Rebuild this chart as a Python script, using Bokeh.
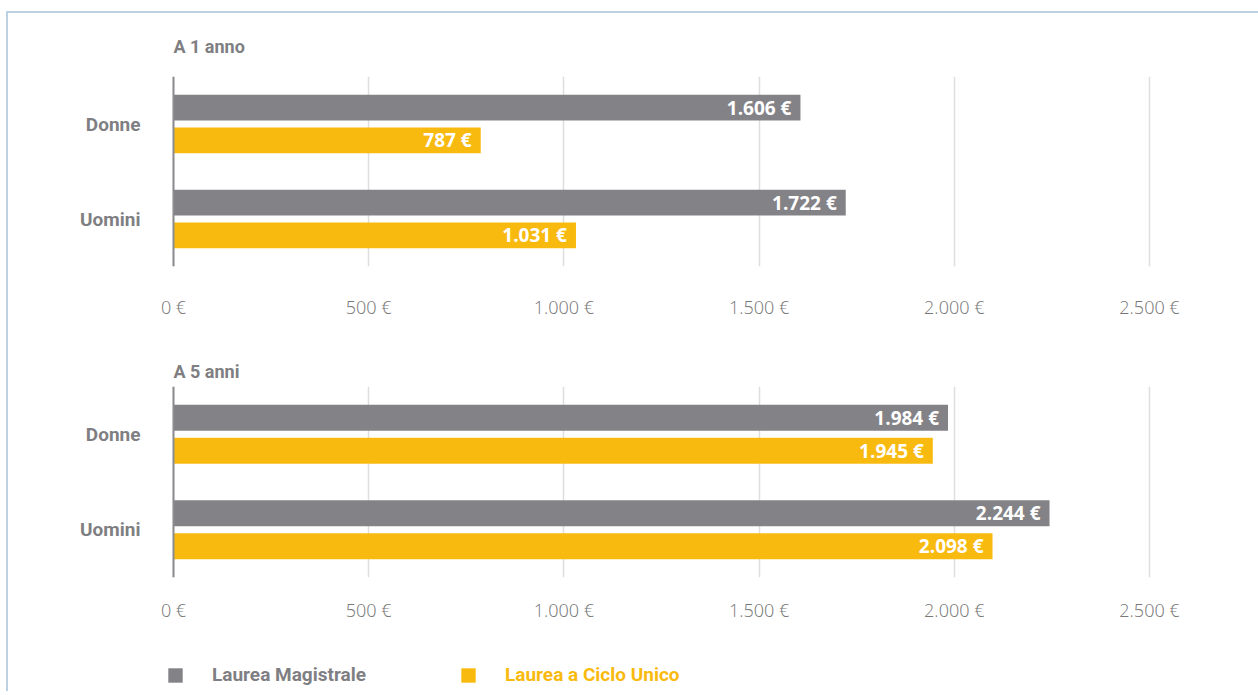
from bokeh.plotting import figure
from bokeh.models import (Range1d, FactorRange, FixedTicker, ColumnDataSource,
                          Legend, LegendItem, Span)
from bokeh.transform import dodge
from bokeh.layouts import column
from bokeh.core.properties import value
from bokeh.embed import file_html
from bokeh.resources import INLINE

# ---------------- data ----------------
CATEGORIES = ["Donne", "Uomini"]
MAGISTRALE_1 = [1606, 1722]
CICLO_UNICO_1 = [787, 1031]
MAGISTRALE_5 = [1984, 2244]
CICLO_UNICO_5 = [1945, 2098]
PANEL_TITLES = ["A 1 anno", "A 5 anni"]
SERIES_NAMES = ["Laurea Magistrale", "Laurea a Ciclo Unico"]
TICK_VALUES = [0, 500, 1000, 1500, 2000, 2500]
TICK_LABELS = ["0 €", "500 €", "1.000 €", "1.500 €", "2.000 €", "2.500 €"]

# ---------------- style ----------------
GRAY = "#838286"
YELLOW = "#F9BA10"
TEXT_GRAY = "#7f7f83"
TICK_GRAY = "#777777"
GRID = "#dedede"
AXIS = "#8c8c90"
FRAME = "#bcd2e2"
BOLD_FONT = "Roboto"
LIGHT_FONT = "Open Sans Light"
VALUE_FONT = "Open Sans"
X_START, X_END = -38.4, 2600


def euro(v):
    return f"{v:,}".replace(",", ".") + " €"


def panel(title, mag, cu, height, b_top, b_bottom, title_standoff, label_standoff):
    p = figure(width=1250, height=height, title=title,
               x_range=Range1d(X_START, X_END),
               y_range=FactorRange(factors=CATEGORIES[::-1], range_padding=0),
               output_backend="svg", toolbar_location=None,
               min_border_left=150, min_border_right=70,
               min_border_top=b_top, min_border_bottom=b_bottom)
    p.outline_line_color = None
    p.title.text_font = BOLD_FONT
    p.title.text_font_style = "bold"
    p.title.text_font_size = "18px"
    p.title.text_color = TEXT_GRAY
    p.title.align = "left"
    p.title.offset = 15
    p.title.standoff = title_standoff

    src = ColumnDataSource(dict(cat=CATEGORIES, mag=mag, cu=cu,
                                mag_lbl=[euro(v) for v in mag],
                                cu_lbl=[euro(v) for v in cu]))
    y_mag = dodge("cat", 0.173, range=p.y_range)
    y_cu = dodge("cat", -0.173, range=p.y_range)
    p.hbar(y=y_mag, left=0, right="mag", height=0.272, source=src,
           fill_color=GRAY, line_color=None)
    p.hbar(y=y_cu, left=0, right="cu", height=0.272, source=src,
           fill_color=YELLOW, line_color=None)
    for col, yy in (("mag", y_mag), ("cu", y_cu)):
        p.text(x=col, y=yy, text=col + "_lbl", source=src,
               text_align="right", text_baseline="middle", x_offset=-9,
               text_color="white", text_font=value(VALUE_FONT),
               text_font_style="bold", text_font_size="19px")

    ticker = FixedTicker(ticks=TICK_VALUES)
    p.xaxis.ticker = ticker
    p.xaxis.major_label_overrides = dict(zip(TICK_VALUES, TICK_LABELS))
    p.xaxis.axis_line_color = None
    p.xaxis.major_tick_line_color = None
    p.xaxis.minor_tick_line_color = None
    p.xaxis.major_tick_out = 0
    p.xaxis.major_label_standoff = label_standoff
    p.xaxis.major_label_text_font = LIGHT_FONT
    p.xaxis.major_label_text_font_size = "18px"
    p.xaxis.major_label_text_color = TICK_GRAY

    p.xgrid.ticker = ticker
    p.xgrid.grid_line_color = GRID
    p.xgrid.grid_line_width = 1.5
    p.ygrid.grid_line_color = None

    # zero line (vertical axis line)
    p.add_layout(Span(location=0, dimension="height", line_color=AXIS, line_width=2))

    p.yaxis.axis_line_color = None
    p.yaxis.major_tick_line_color = None
    p.yaxis.minor_tick_line_color = None
    p.yaxis.major_tick_out = 0
    p.yaxis.major_label_standoff = 18
    p.yaxis.major_label_text_font = BOLD_FONT
    p.yaxis.major_label_text_font_style = "bold"
    p.yaxis.major_label_text_font_size = "19px"
    p.yaxis.major_label_text_color = TEXT_GRAY
    return p


p1 = panel(PANEL_TITLES[0], MAGISTRALE_1, CICLO_UNICO_1, 330, 62, 77, 40, 28)
p2 = panel(PANEL_TITLES[1], MAGISTRALE_5, CICLO_UNICO_5, 302, 43, 68, 10, 20)

# ---------------- legend strip ----------------
lg = figure(width=1250, height=46, x_range=Range1d(X_START, X_END), y_range=Range1d(0, 1),
            min_border=0, output_backend="svg", toolbar_location=None,
            x_axis_location=None, y_axis_location=None)
lg.outline_line_color = None
lg.xgrid.grid_line_color = None
lg.ygrid.grid_line_color = None
lsrc = ColumnDataSource(dict(k=[0.25, 0.75], mag=MAGISTRALE_5, cu=CICLO_UNICO_5))
r_mag = lg.hbar(y="k", right="mag", height=0.1, source=lsrc,
                fill_color=GRAY, line_color=None, visible=False)
r_cu = lg.hbar(y="k", right="cu", height=0.1, source=lsrc,
               fill_color=YELLOW, line_color=None, visible=False)

for name, rend, color, x in ((SERIES_NAMES[0], r_mag, TEXT_GRAY, 8),
                             (SERIES_NAMES[1], r_cu, YELLOW, 301)):
    leg = Legend(items=[LegendItem(label=name, renderers=[rend])],
                 location=(x, 5), orientation="horizontal",
                 glyph_width=18, glyph_height=18, label_standoff=28,
                 label_text_font=BOLD_FONT, label_text_font_style="bold",
                 label_text_font_size="19px", label_text_color=color,
                 padding=0, margin=0, border_line_color=None,
                 background_fill_alpha=0, inactive_fill_alpha=0)
    lg.add_layout(leg)

layout = column(p1, p2, lg, margin=(11, 0, 0, 6),
                styles={"border-top": f"2px solid {FRAME}",
                        "border-left": f"2px solid {FRAME}"})

open("out.html", "w").write(file_html(layout, INLINE))
